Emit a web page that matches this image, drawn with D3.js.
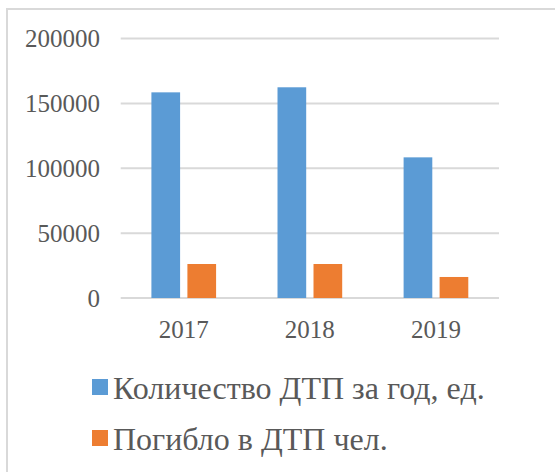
<!DOCTYPE html>
<meta charset="utf-8">
<style>
  body { margin: 0; background: #fff; }
</style>
<svg width="555" height="472" font-family="'Liberation Serif', 'Times New Roman', serif"></svg>
<script src="https://d3js.org/d3.v7.min.js"></script>
<script>
// data
const years = ["2017", "2018", "2019"];
const seriesNames = ["Количество ДТП за год, ед.", "Погибло в ДТП чел."];
const accidents = [158500, 162400, 108400];
const deaths = [26200, 26200, 16200];
const yTicks = [0, 50000, 100000, 150000, 200000];
const colors = ["#5b9bd5", "#ed7d31"];
const textColor = "#595959";

const svg = d3.select("svg");

// frame (only top and left edges visible in the picture)
svg.append("path")
  .attr("d", "M7,472V9H555")
  .attr("fill", "none")
  .attr("stroke", "#d9d9d9")
  .attr("stroke-width", 2);

const y = d3.scaleLinear().domain([0, 200000]).range([298, 38.5]);
const x0 = d3.scaleBand().domain(years).range([120.7, 499]);
const x1 = d3.scaleBand().domain([0, 1]).range([0, x0.bandwidth()])
  .paddingInner(0.203).paddingOuter(0.853);

// gridlines
svg.append("g")
  .selectAll("line")
  .data(yTicks)
  .join("line")
    .attr("x1", 120.7)
    .attr("x2", 499)
    .attr("y1", d => y(d))
    .attr("y2", d => y(d))
    .attr("stroke", "#d9d9d9")
    .attr("stroke-width", 2);

// y tick labels
svg.append("g")
  .selectAll("text")
  .data(yTicks)
  .join("text")
    .attr("x", 100)
    .attr("y", d => y(d))
    .attr("dy", "0.34em")
    .attr("text-anchor", "end")
    .attr("font-family", "Liberation Serif")
    .attr("font-size", 25)
    .attr("fill", textColor)
    .text(d => d);

const rows = years.map((yr, i) => ({ year: yr, values: [accidents[i], deaths[i]] }));

const groups = svg.append("g")
  .selectAll("g")
  .data(rows)
  .join("g")
    .attr("transform", d => "translate(" + x0(d.year) + ",0)");

groups.selectAll("rect")
  .data(d => d.values.map((v, k) => ({ k: k, v: v })))
  .join("rect")
    .attr("x", d => x1(d.k))
    .attr("width", x1.bandwidth())
    .attr("y", d => y(d.v))
    .attr("height", d => y(0) - y(d.v))
    .attr("fill", d => colors[d.k]);

// x labels
svg.append("g")
  .selectAll("text")
  .data(years)
  .join("text")
    .attr("x", d => x0(d) + x0.bandwidth() / 2)
    .attr("y", 338)
    .attr("text-anchor", "middle")
    .attr("font-family", "Liberation Serif")
    .attr("font-size", 25)
    .attr("fill", textColor)
    .text(d => d);

// legend
const legend = svg.append("g")
  .selectAll("g")
  .data(seriesNames)
  .join("g")
    .attr("transform", (d, i) => "translate(92," + (379 + i * 51) + ")");

legend.append("rect")
  .attr("width", 16)
  .attr("height", 16)
  .attr("fill", (d, i) => colors[i]);

legend.append("text")
  .attr("x", 21)
  .attr("y", 20)
  .attr("font-family", "Liberation Serif")
  .attr("font-size", 32)
  .attr("fill", textColor)
  .text(d => d);
</script>
